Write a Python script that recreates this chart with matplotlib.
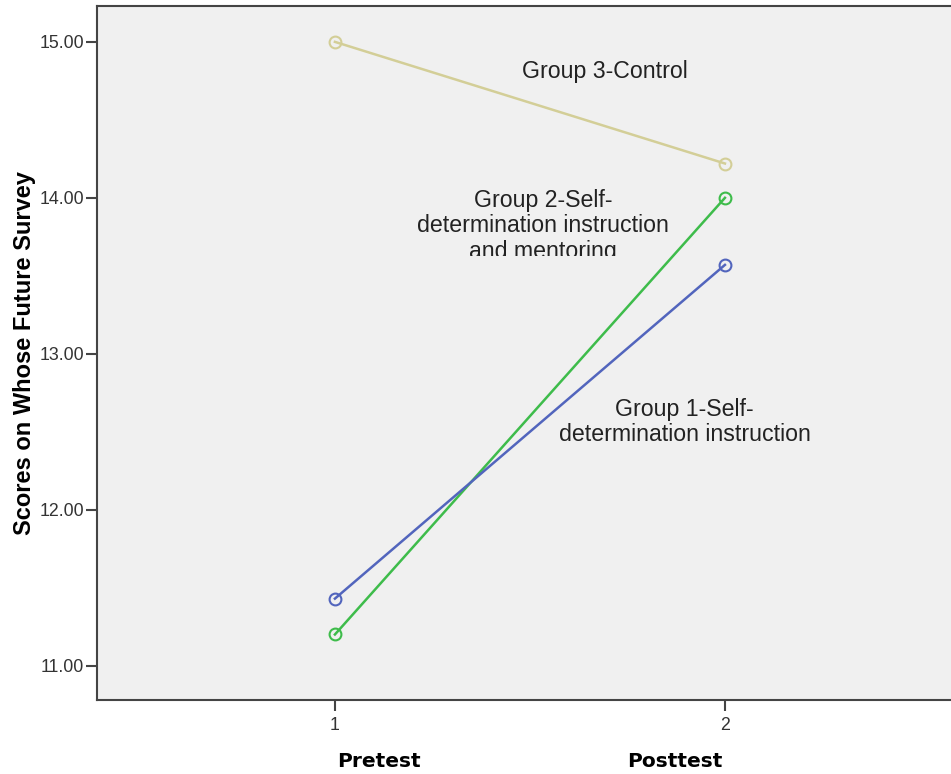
import matplotlib.pyplot as plt
from matplotlib.patches import Rectangle

plt.rcParams['font.family'] = ['Liberation Sans', 'DejaVu Sans']

times = [1, 2]
group1 = [11.43, 13.57]
group2 = [11.20, 14.00]
group3 = [15.00, 14.22]
time_labels = ['Pretest', 'Posttest']

fig = plt.figure(figsize=(9.51, 7.74), dpi=100)
ax = fig.add_axes([97 / 951, 74 / 774, 1 - 97 / 951 + 0.01, 694 / 774])
ax.set_facecolor('#f0f0f0')

ax.plot(times, group3, color='#d3ce97', lw=1.8, marker='o', ms=8.5,
        mfc='none', mew=1.5, clip_on=False)
ax.plot(times, group2, color='#3ebc4b', lw=1.8, marker='o', ms=8.5,
        mfc='none', mew=1.5, clip_on=False)
ax.plot(times, group1, color='#5265bd', lw=1.8, marker='o', ms=8.5,
        mfc='none', mew=1.5, clip_on=False)

ax.set_xlim(0.39, 2.604)
ax.set_ylim(10.78, 15.23)
ax.set_xticks(times)
ax.set_yticks([11, 12, 13, 14, 15])
ax.set_yticklabels(['%.2f' % v for v in [11, 12, 13, 14, 15]])
ax.tick_params(axis='both', direction='out', length=8, width=1.5,
               color='#444444', labelsize=12.8, labelcolor='#333333')
ax.tick_params(axis='y', pad=1.5)
ax.tick_params(axis='x', pad=4)
for s in ['left', 'bottom', 'top']:
    ax.spines[s].set_color('#444444')
    ax.spines[s].set_linewidth(1.5)
ax.spines['right'].set_visible(False)

ax.set_ylabel('Scores on Whose Future Survey', fontsize=17, fontweight='bold',
              labelpad=2)

# group labels
ax.text(1.692, 14.81, 'Group 3-Control', fontsize=16.7, ha='center',
        va='center', color='#222222')
t = ax.text(1.533, 13.82, 'Group 2-Self-\ndetermination instruction\nand mentoring',
            fontsize=16.7, ha='center', va='center', color='#222222',
            linespacing=1.12, clip_on=True)
# the label box in the original cuts off the bottom of the last line
clip = Rectangle((0, 13.625), 3, 2, transform=ax.transData)
t.set_clip_path(clip)
ax.text(1.897, 12.565, 'Group 1-Self-\ndetermination instruction', fontsize=16.7,
        ha='center', va='center', color='#222222', linespacing=1.12)

# time labels below axis
for x, lab in zip(times, time_labels):
    dx = 0.113 if x == 1 else -0.128
    ax.annotate(lab, xy=(x + dx, 0), xycoords=('data', 'axes fraction'),
                xytext=(0, -44), textcoords='offset points', ha='center',
                va='center', fontsize=14.5, fontweight='bold',
                family='DejaVu Sans')

fig.savefig('out.png', dpi=100)
